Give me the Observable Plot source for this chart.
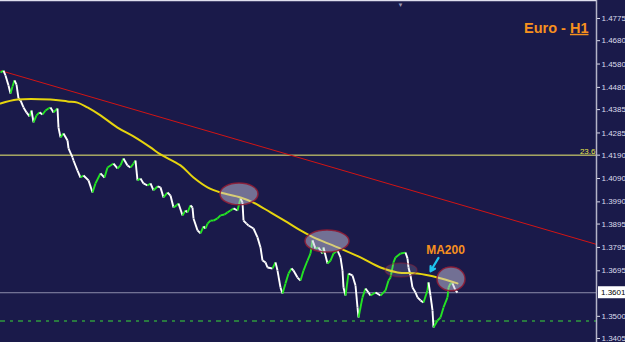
<!DOCTYPE html>
<html><head><meta charset="utf-8">
<script src="https://cdn.jsdelivr.net/npm/d3@7"></script>
<script src="https://cdn.jsdelivr.net/npm/@observablehq/plot@0.6"></script>
<style>
html,body{margin:0;padding:0;background:#1a1a4a;overflow:hidden}
#chart svg{display:block}
</style></head><body><div id="chart"></div>
<script>
// ---- data ----
const hours = [0,3,5,8,10,12,14,16,18,20,23,26,29,31,33,36,39,42,45,48,50,53,57,58,60,63,67,68,72,73,77,80,83,88,92,95,100,104,107,113,117,120,123,127,130,133,135,137,140,143,147,150,153,157,160,163,167,170,173,176,178,182,185,187,190,192,193,197,200,203,205,207,210,213,217,220,224,227,230,233,237,240,242,243,246,248,253,257,260,262,265,267,272,275,277,280,282,285,288,291,293,297,300,303,307,310,312,315,318,320,322,323,327,330,333,337,340,342,343,345,348,352,355,357,358,362,365,368,370,375,380,385,388,390,393,395,400,405,407,408,410,412,415,417,420,423,427,428,430,432,433,437,440,443,447,448,450,452,455,457];
const closes = [1.4544,1.4552,1.4531,1.4488,1.4454,1.4484,1.4510,1.4492,1.4433,1.4424,1.4394,1.4373,1.4356,1.4381,1.4330,1.4360,1.4373,1.4364,1.4381,1.4390,1.4394,1.4373,1.4390,1.4308,1.4266,1.4283,1.4253,1.4219,1.4180,1.4167,1.4124,1.4094,1.4103,1.4082,1.4030,1.4069,1.4112,1.4094,1.4137,1.4154,1.4133,1.4146,1.4176,1.4146,1.4137,1.4154,1.4167,1.4082,1.4090,1.4069,1.4060,1.4069,1.4039,1.4056,1.4052,1.4009,1.4030,1.4017,1.3966,1.3975,1.3983,1.3932,1.3953,1.3945,1.3975,1.3966,1.3919,1.3868,1.3855,1.3885,1.3876,1.3897,1.3910,1.3910,1.3919,1.3932,1.3936,1.3945,1.3953,1.3962,1.3953,1.4005,1.3987,1.3910,1.3897,1.3889,1.3876,1.3838,1.3795,1.3739,1.3731,1.3709,1.3705,1.3731,1.3696,1.3623,1.3598,1.3641,1.3683,1.3705,1.3696,1.3666,1.3653,1.3696,1.3739,1.3769,1.3825,1.3790,1.3795,1.3782,1.3769,1.3795,1.3726,1.3739,1.3769,1.3782,1.3752,1.3696,1.3623,1.3589,1.3683,1.3675,1.3632,1.3538,1.3495,1.3581,1.3619,1.3602,1.3589,1.3602,1.3589,1.3611,1.3653,1.3666,1.3731,1.3752,1.3769,1.3773,1.3748,1.3709,1.3675,1.3623,1.3602,1.3581,1.3568,1.3559,1.3611,1.3645,1.3589,1.3525,1.3452,1.3482,1.3495,1.3538,1.3581,1.3623,1.3641,1.3641,1.3611,1.3602];
const maHours  = [0,17,50,67,77,87,100,117,133,150,160,180,193,207,220,240,253,270,287,300,313,320,340,360,380,397,417,437,457];
const maValues = [1.4411,1.4428,1.4428,1.4420,1.4415,1.4394,1.4360,1.4308,1.4270,1.4223,1.4193,1.4146,1.4094,1.4052,1.4030,1.4009,1.3987,1.3945,1.3902,1.3868,1.3838,1.3825,1.3790,1.3752,1.3709,1.3688,1.3683,1.3666,1.3641];
const trendHours = [0, 596];
const trendValues = [1.4552, 1.3808];
const fibLevel = [1.4190];
const fibLabel = ["23.6"];
const currentPrice = [1.3601];
const supportLevel = [1.3480];
const yTicks = [1.4775,1.4680,1.4580,1.4480,1.4385,1.4285,1.4190,1.4090,1.3990,1.3895,1.3795,1.3695,1.3500,1.3405];
const zoneHours = [239, 327, 401, 451];
const zoneCenters = [1.4022, 1.3820, 1.3696, 1.3658];
const zoneHalfWidths = [19, 22, 16, 14];
const zoneHalfHeights = [0.0047, 0.0047, 0.0030, 0.0051];
const zoneOpacity = [0.5, 0.5, 0.18, 0.5];
const zoneEdgeOpacity = [0.9, 0.9, 0.45, 0.9];
const maLabelHour = [445], maLabelPrice = [1.3782];
const arrowFromHour = [438], arrowFromPrice = [1.3750];
const arrowToHour = [430], arrowToPrice = [1.3693];
const markerHours = [400];
const titleText = ["Euro - H1"];
const xDomain = [0, 596];
const yDomain = [1.3388, 1.4852];

// ---- derived tables ----
const segs = hours.slice(1).map((h, i) => ({
  x1: hours[i], y1: closes[i], x2: h, y2: closes[i + 1], up: closes[i + 1] >= closes[i]
}));
const ma = maHours.map((h, i) => ({h, v: maValues[i]}));

function pickScales(a, b) { return (b && typeof b.x === "function") ? b : a; }

function zonesMark(a, b) {
  const s = pickScales(a, b);
  const g = d3.create("svg:g");
  zoneHours.forEach((h, k) => {
    const cx = s.x(h), cy = s.y(zoneCenters[k]);
    g.append("ellipse")
      .attr("cx", cx).attr("cy", cy)
      .attr("rx", s.x(h + zoneHalfWidths[k]) - cx)
      .attr("ry", cy - s.y(zoneCenters[k] + zoneHalfHeights[k]))
      .attr("fill", "#cac6de").attr("fill-opacity", zoneOpacity[k])
      .attr("stroke", "#8e1d36").attr("stroke-width", 1.5).attr("stroke-opacity", zoneEdgeOpacity[k]);
  });
  return g.node();
}

function priceBoxMark(a, b) {
  const s = pickScales(a, b);
  const g = d3.create("svg:g");
  const x0 = s.x(xDomain[1]) + 2, cy = s.y(currentPrice[0]);
  g.append("rect").attr("x", x0).attr("y", cy - 6).attr("width", 27).attr("height", 12)
    .attr("fill", "#ffffff").attr("stroke", "none");
  g.append("text").attr("x", x0 + 3).attr("y", cy).attr("dy", "0.34em")
    .attr("text-anchor", "start")
    .style("font-size", "8px").style("font-family", "Liberation Sans, Arial, sans-serif")
    .style("fill", "#000000").attr("fill", "#000000").attr("stroke", "none")
    .text(currentPrice[0].toFixed(4));
  return g.node();
}

const chart = Plot.plot({
  width: 625,
  height: 342,
  marginLeft: 0,
  marginRight: 29,
  marginTop: 0,
  marginBottom: 0,
  style: {background: "#1a1a4a", color: "#dcdcec", fontSize: "8px", fontFamily: "Liberation Sans, Arial, sans-serif"},
  x: {domain: xDomain, axis: null},
  y: {domain: yDomain, axis: "right", ticks: yTicks, tickFormat: d => d.toFixed(4), tickSize: 3, tickPadding: 2, label: null},
  marks: [
    Plot.ruleY(fibLevel, {stroke: "#f0f070", strokeWidth: 1}),
    Plot.ruleY(currentPrice, {stroke: "#8c8cac", strokeWidth: 1}),
    Plot.ruleY(supportLevel, {stroke: "#2f9a3e", strokeWidth: 1.5, strokeDasharray: "5,5,3,5"}),
    Plot.link(trendHours.slice(0, 1), {x1: () => trendHours[0], y1: () => trendValues[0], x2: () => trendHours[1], y2: () => trendValues[1], stroke: "#d21414", strokeWidth: 1}),
    Plot.link(segs, {x1: "x1", y1: "y1", x2: "x2", y2: "y2", stroke: d => d.up ? "#24e424" : "#ffffff", strokeWidth: 1.9}),
    Plot.line(ma, {x: "h", y: "v", stroke: "#e6d40e", strokeWidth: 2, curve: "catmull-rom"}),
    zonesMark,
    Plot.text(fibLabel, {x: () => xDomain[1], y: () => fibLevel[0], text: d => d, textAnchor: "end", dx: -1, dy: -4, fontSize: 8, fill: "#e8e84a"}),
    Plot.arrow(arrowFromHour, {x1: (d, i) => arrowFromHour[i], y1: (d, i) => arrowFromPrice[i], x2: (d, i) => arrowToHour[i], y2: (d, i) => arrowToPrice[i], stroke: "#1ec4ee", strokeWidth: 2.2, headLength: 6}),
    Plot.text(maLabelHour, {x: (d, i) => maLabelHour[i], y: (d, i) => maLabelPrice[i], text: () => "MA200", fontSize: 12, fontWeight: "bold", fill: "#f7901e", fontFamily: "Liberation Sans, Arial, sans-serif"}),
    Plot.text(titleText, {frameAnchor: "top-right", text: d => d, textAnchor: "end", dx: -8, dy: 22, fontSize: 14.5, fontWeight: "bold", fill: "#f7901e", fontFamily: "Liberation Sans, Arial, sans-serif"}),
    Plot.text(markerHours, {x: d => d, frameAnchor: "top", text: () => "\u25BC", fontSize: 6, fill: "#9a9ab4", dy: 2}),
    Plot.ruleX(xDomain.slice(1), {stroke: "#b4b4c8", strokeWidth: 1.5}),
    Plot.ruleY(yDomain.slice(1), {stroke: "#e0e0ee", strokeWidth: 1.5}),
    priceBoxMark
  ]
});

document.getElementById("chart").appendChild(chart);

// underline "H1" in the title
d3.select(chart).selectAll("text").filter(function () { return this.textContent === titleText[0]; })
  .each(function () {
    const t = d3.select(this);
    t.text("Euro - ");
    t.append("tspan").attr("text-decoration", "underline").text("H1");
  });
</script>
</body></html>
